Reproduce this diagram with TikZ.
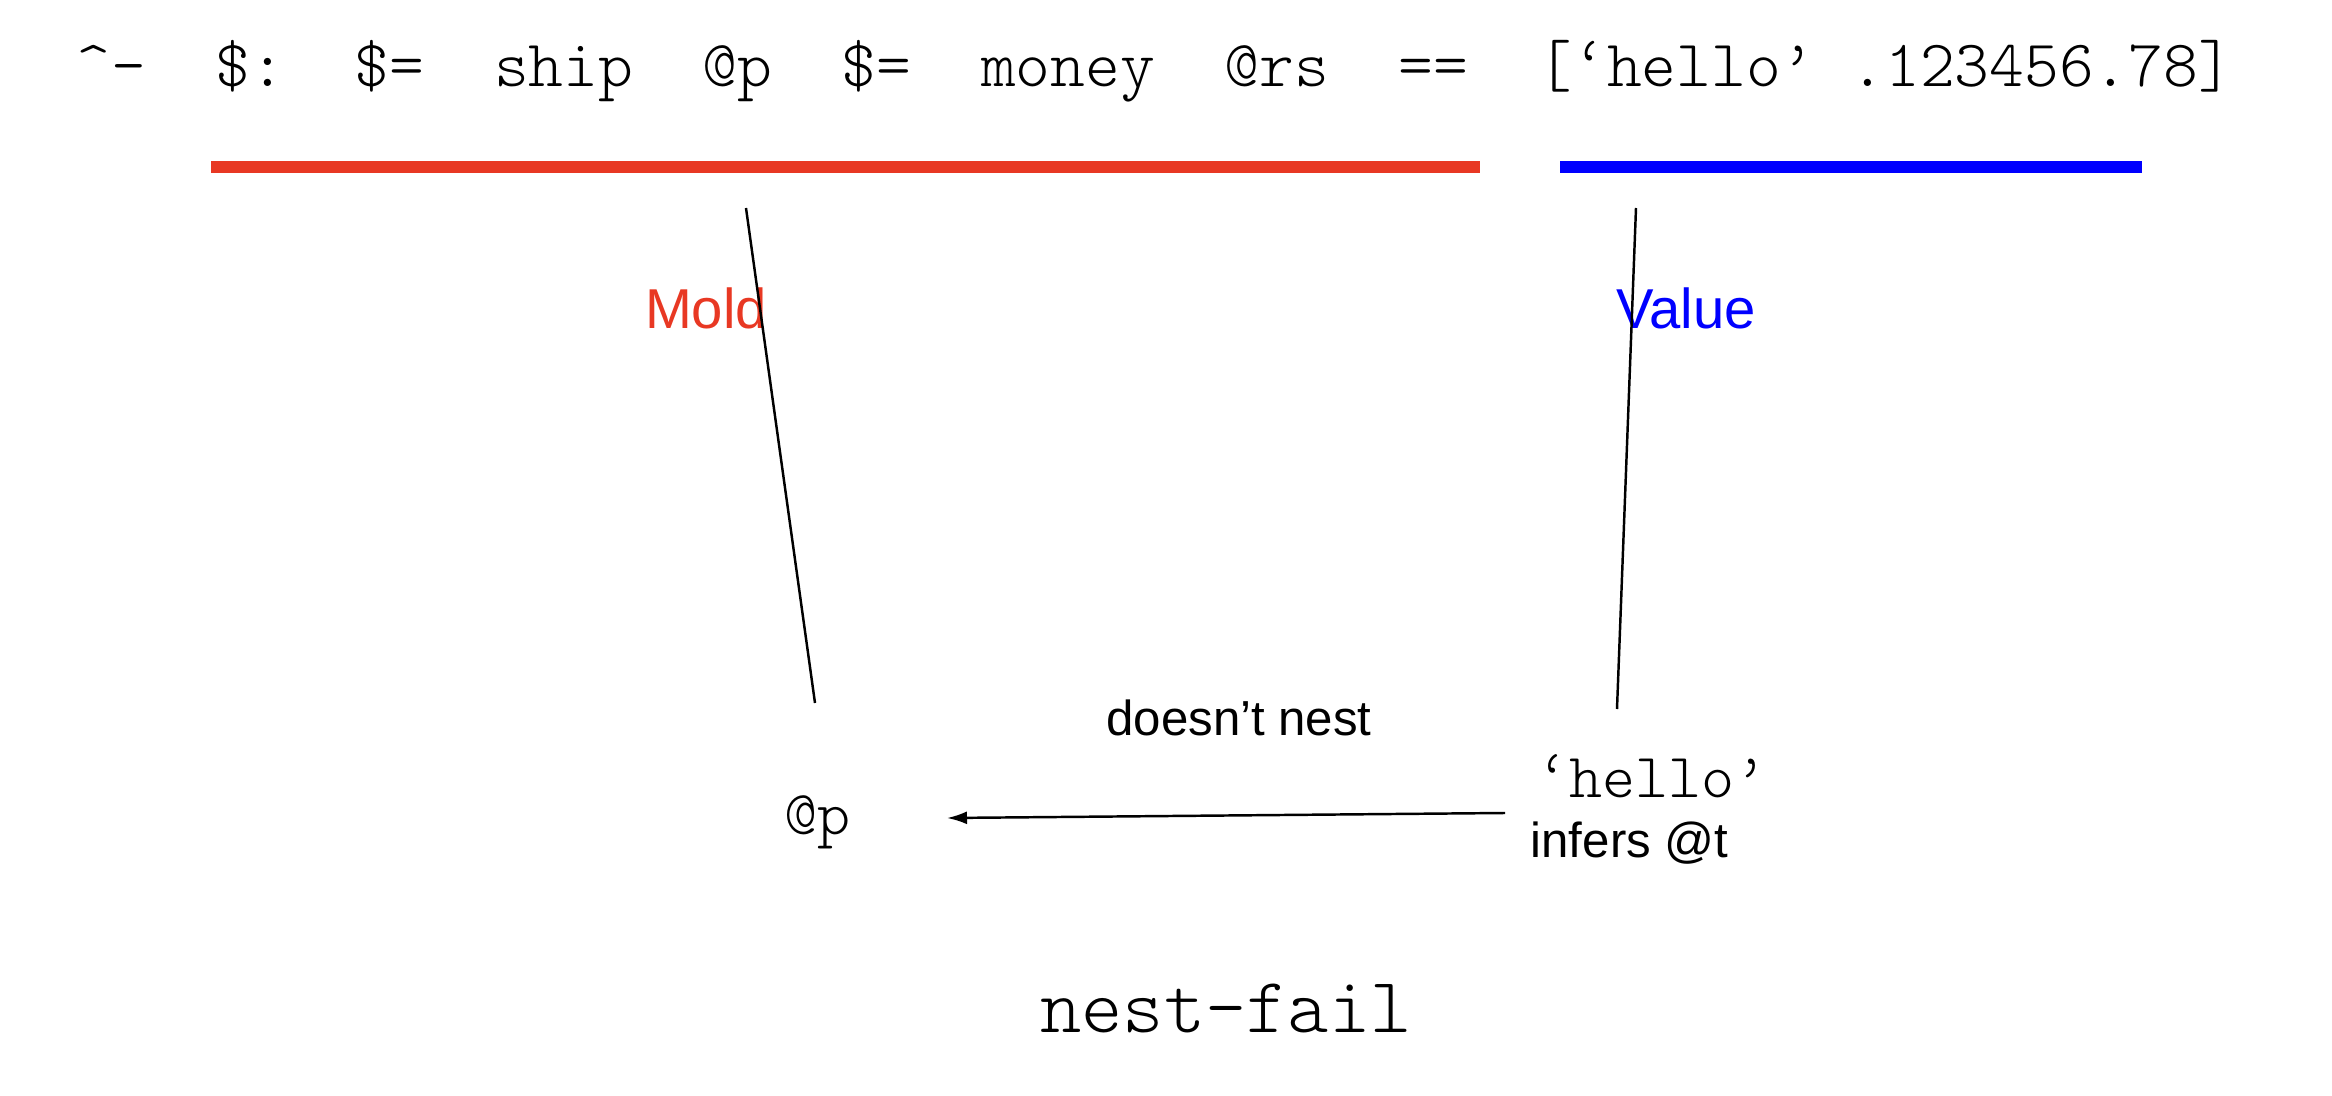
\documentclass[tikz,border=0pt]{standalone}
\usepackage{fontspec}
\setmainfont{Liberation Sans}
\setmonofont{Latin Modern Mono Light}
\usetikzlibrary{arrows.meta}
\definecolor{moldred}{RGB}{232,56,35}
\definecolor{valueblue}{RGB}{0,0,255}

\begin{document}
\begin{tikzpicture}[x=0.1mm,y=-0.1mm,
    codetext/.style={font=\ttfamily\fontsize{18.85}{23}\selectfont,inner sep=0,anchor=base west},
    monosmall/.style={font=\ttfamily\fontsize{17.9}{22}\selectfont,inner sep=0,anchor=base west},
    tagtext/.style={font=\fontsize{16}{19}\selectfont,inner sep=0,anchor=base},
    notetext/.style={font=\fontsize{14}{17}\selectfont,inner sep=0},
    bar/.style={line width=3.4pt},
    link/.style={line width=0.7pt}]
            \useasboundingbox (0,0) rectangle (2332,1096);

            \node[codetext] (line) at (76,87) {\textasciicircum-~~\$:~~\$=~~ship~~@p~~\$=~~money~~@rs~~==~~[‘hello’~.123456.78]};

            \draw[bar,moldred] (211,167) -- (1480,167);
            \draw[bar,valueblue] (1560,167) -- (2142,167);

            \node[tagtext,moldred] (mold) at (706,329) {Mold};
            \node[tagtext,valueblue] (value) at (1686,329) {Value};

            \coordinate (moldtop) at (746,208);
            \coordinate (moldend) at (815,703);
            \coordinate (valuetop) at (1636,208);
            \coordinate (valueend) at (1617,709);
            \draw[link] (moldtop) -- (moldend);
            \draw[link] (valuetop) -- (valueend);

            \node[monosmall] (pv) at (784,834) {@p};
            \node[monosmall] (hello) at (1536,797) {‘hello’};
            \node[notetext,anchor=base west] (infer) at (1530,857) {infers @t};
            \node[notetext,anchor=base] (nest) at (1239,735) {doesn’t nest};

            \coordinate (arrowfrom) at (1505,813);
            \coordinate (arrowto) at (947,818);
            \draw[link,-{Latex[length=2mm,width=1.3mm]}] (arrowfrom) -- (arrowto);

            \node[font=\ttfamily\fontsize{22.35}{27}\selectfont,inner sep=0,anchor=base] (title) at (1226,1032) {nest-fail};
        \end{tikzpicture}
\end{document}
